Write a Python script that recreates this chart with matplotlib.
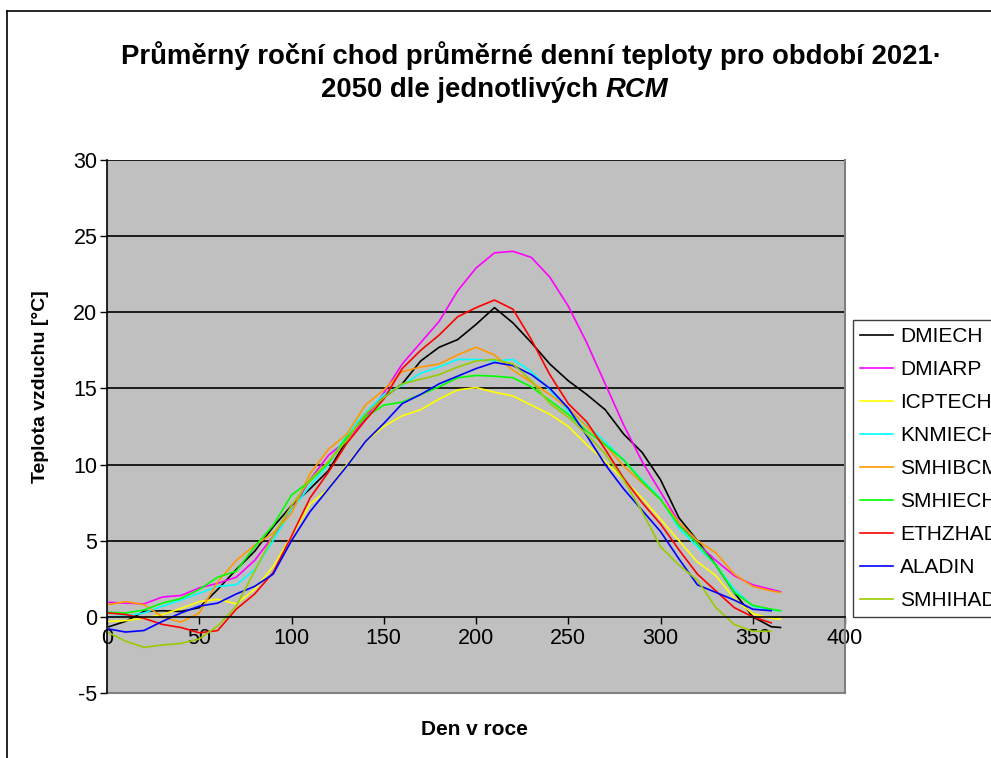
import matplotlib.pyplot as plt
from matplotlib.lines import Line2D

plt.rcParams['font.family'] = ['Liberation Sans', 'DejaVu Sans']
plt.rcParams['axes.unicode_minus'] = False

# den v roce, pro ktery jsou odectene hodnoty
dny = [1, 10, 20, 30, 40, 50, 60, 70, 80, 90, 100, 110, 120, 130, 140, 150, 160, 170, 180,
       190, 200, 210, 220, 230, 240, 250, 260, 270, 280, 290, 300, 310, 320, 330, 340, 350, 360, 365]
dny_360 = dny[:-1]

dmiech = [-0.65, -0.3, 0.35, 0.4, 0.35, 0.6, 1.8, 3.1, 4.3, 5.9, 7.3, 8.4, 9.6, 11.6, 13.3, 14.4, 15.3, 16.8, 17.7,
          18.2, 19.2, 20.3, 19.3, 18.0, 16.6, 15.5, 14.6, 13.6, 12.0, 10.8, 9.0, 6.5, 5.0, 3.4, 1.6, 0.0, -0.65, -0.7]
dmiarp = [0.95, 0.9, 0.85, 1.3, 1.4, 1.9, 2.2, 2.6, 3.7, 5.3, 7.0, 9.0, 10.6, 11.6, 13.0, 14.7, 16.6, 18.0, 19.4,
          21.4, 22.9, 23.9, 24.0, 23.6, 22.3, 20.4, 18.0, 15.3, 12.6, 10.2, 8.2, 6.2, 4.8, 3.7, 2.7, 2.1, 1.8, 1.65]
icptech = [-0.3, -0.25, -0.1, 0.15, 0.55, 1.0, 1.15, 0.85, 1.8, 3.3, 5.3, 7.4, 8.4, 10.0, 11.5, 12.5, 13.2, 13.6, 14.3,
           14.9, 15.05, 14.75, 14.5, 13.9, 13.3, 12.5, 11.3, 10.2, 9.0, 7.8, 6.4, 5.0, 3.6, 2.7, 1.2, 0.2, -0.1, -0.15]
knmiech = [0.0, 0.05, 0.25, 0.7, 1.1, 1.55, 2.0, 2.1, 3.1, 5.0, 7.0, 8.6, 10.0, 12.0, 13.4, 14.6, 15.2, 16.0, 16.4,
           16.9, 16.9, 16.8, 16.9, 16.1, 14.9, 13.5, 12.6, 11.5, 10.3, 9.0, 7.8, 5.8, 4.6, 3.4, 1.8, 0.7, 0.45, 0.4]
smhibcm = [0.8, 1.0, 0.8, 0.0, -0.35, 0.25, 2.3, 3.7, 4.7, 5.5, 6.8, 9.4, 11.0, 12.0, 13.9, 14.9, 16.1, 16.4, 16.6,
           17.2, 17.7, 17.2, 16.2, 15.4, 14.6, 13.7, 12.5, 11.3, 9.9, 8.8, 7.7, 6.2, 5.0, 4.2, 2.8, 2.0, 1.7, 1.6]
smhiech = [0.3, 0.25, 0.45, 0.9, 1.2, 1.8, 2.6, 3.0, 4.6, 6.0, 8.0, 8.9, 10.1, 11.8, 13.1, 13.9, 14.1, 14.6, 15.1,
           15.7, 15.85, 15.8, 15.7, 15.1, 14.2, 13.3, 12.2, 11.3, 10.3, 8.9, 7.7, 6.0, 4.8, 3.4, 1.6, 0.75, 0.5, 0.4]
ethzhad = [0.25, 0.15, -0.1, -0.5, -0.7, -1.05, -0.9, 0.5, 1.5, 2.9, 5.3, 7.8, 9.5, 11.4, 12.9, 14.3, 16.3, 17.5, 18.5,
           19.7, 20.3, 20.8, 20.2, 18.2, 15.9, 14.0, 12.8, 11.0, 9.1, 7.5, 6.1, 4.4, 2.8, 1.7, 0.6, 0.0, -0.4]
aladin = [-0.8, -1.0, -0.9, -0.3, 0.25, 0.7, 0.9, 1.5, 2.0, 2.8, 5.0, 6.9, 8.4, 9.9, 11.5, 12.7, 14.0, 14.6, 15.3,
          15.8, 16.3, 16.7, 16.5, 15.9, 15.0, 13.7, 11.9, 10.0, 8.4, 7.0, 5.6, 3.8, 2.1, 1.6, 1.1, 0.5, 0.4]
smhihad = [-1.05, -1.6, -2.0, -1.85, -1.75, -1.45, -0.6, 0.7, 3.0, 5.3, 7.3, 9.0, 10.2, 11.6, 13.3, 14.4, 15.3, 15.6, 15.9,
           16.4, 16.8, 16.9, 16.6, 15.5, 14.0, 13.1, 12.0, 10.7, 9.0, 6.9, 4.6, 3.4, 2.4, 0.6, -0.5, -0.95, -0.95]

modely = ['DMIECH', 'DMIARP', 'ICPTECH', 'KNMIECH', 'SMHIBCM', 'SMHIECH', 'ETHZHAD', 'ALADIN', 'SMHIHAD']
barvy = ['#000000', '#FF00FF', '#FFFF00', '#00FFFF', '#FF9900', '#00FF00', '#FF0000', '#0000FF', '#99CC00']
data = [(dny, dmiech), (dny, dmiarp), (dny, icptech), (dny, knmiech), (dny, smhibcm),
        (dny, smhiech), (dny_360, ethzhad), (dny_360, aladin), (dny_360, smhihad)]

fig = plt.figure(figsize=(9.91, 7.58), dpi=100)
ax = fig.add_axes([0.108, 0.0858, 0.7447, 0.7032])
ax.set_facecolor('#C0C0C0')

for (x, y), nazev, c in zip(data, modely, barvy):
    ax.plot(x, y, color=c, lw=1.2, label=nazev)

ax.set_xlim(0, 400)
ax.set_ylim(-5, 30)
ax.set_xticks(range(0, 401, 50))
ax.set_yticks(range(-5, 31, 5))
for h in range(5, 31, 5):
    ax.axhline(h, color='black', lw=1.2, zorder=0.5)

ax.spines['bottom'].set_position(('data', 0))
ax.spines['left'].set_linewidth(1.2)
ax.spines['bottom'].set_linewidth(1.2)
ax.spines['top'].set_visible(False)
ax.spines['right'].set_color('#808080')
ax.spines['right'].set_linewidth(1.5)
ax.axhline(-5, color='#808080', lw=1.5, clip_on=False)
ax.tick_params(axis='both', direction='out', labelsize=15.5, width=1, length=5, pad=2)
ax.tick_params(axis='x', pad=3)

fig.text(0.041, 1 - 387 / 758, 'Teplota vzduchu [°C]', ha='center', va='center', rotation=90,
         fontsize=14, fontweight='bold')
fig.text(0.479, 0.037, 'Den v roce', ha='center', va='center', fontsize=15, fontweight='bold')

fig.text(0.536, 0.927, 'Průměrný roční chod průměrné denní teploty pro období 2021·',
         ha='center', va='center', fontsize=19.8, fontweight='bold')
t2 = fig.text(0.324, 0.881, '2050 dle jednotlivých ', ha='left', va='center', fontsize=19.8, fontweight='bold')
ax.annotate('RCM', xy=(1, 0.5), xycoords=t2, va='center', ha='left', fontsize=19.8,
            fontweight='bold', fontstyle='italic')

leg = fig.legend(loc='upper left', bbox_to_anchor=(853 / 991, 1 - 320 / 758), fontsize=15,
                 frameon=True, fancybox=False, edgecolor='#404040', framealpha=1,
                 handlelength=1.55, handletextpad=0.35, labelspacing=0.67, borderpad=0.35, borderaxespad=0)
leg.get_frame().set_linewidth(1.0)

# ramecek kolem celeho grafu
fig.add_artist(Line2D([0.007, 0.007], [0, 1 - 11 / 758], color='black', lw=1.2))
fig.add_artist(Line2D([0.007, 1], [1 - 11 / 758, 1 - 11 / 758], color='black', lw=1.2))

fig.savefig('out.png', dpi=100)
